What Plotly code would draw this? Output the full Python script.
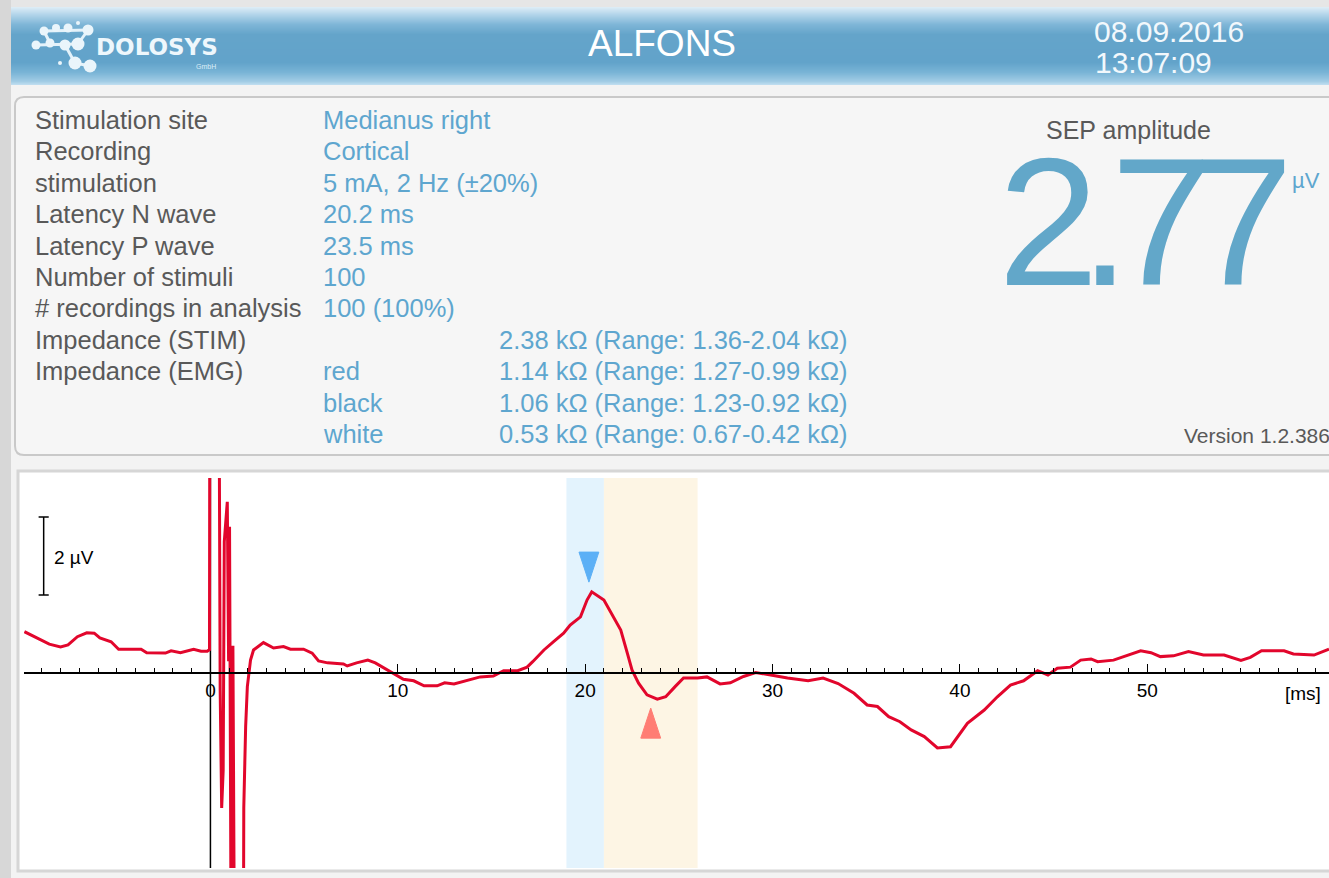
import plotly.graph_objects as go

W, H = 1329, 878

# averaged SEP trace, time in ms, amplitude in µV
TIME_MS = [
    -9.93, -9.4, -8.6, -8.0, -7.6, -7.1, -6.6, -6.2, -5.9, -5.3, -4.9, -3.7, -3.4, -2.4, -2.1, -1.6, -1.2, -0.9, -0.5, -0.17,
    -0.05, -0.03, 0.45, 0.52, 0.6, 0.68, 0.74, 0.9, 0.97, 1.02, 1.12, 1.2, 1.3, 1.75, 1.78, 1.88, 1.97,
    2.14, 2.3, 2.83, 3.37, 3.9, 4.27, 4.97, 5.43, 5.77, 6.25, 7.1, 7.3, 7.8, 8.4, 8.8, 9.25, 9.8, 10.3, 10.85, 11.4, 12.1, 12.5,
    13.0, 13.7, 14.4, 15.1, 15.65, 16.4, 16.9, 17.2, 17.8, 18.3, 18.85, 19.2, 19.75, 20.1, 20.35, 21.0, 21.5, 21.9, 22.25,
    22.5, 22.85, 23.3, 23.85, 24.3, 24.8, 25.25, 26.0, 26.5, 27.2, 27.75, 28.45, 29.1, 29.9,
    30.8, 31.9, 32.7, 33.5, 34.35, 35.05, 35.6, 36.2, 36.8, 37.4, 38.1, 38.8, 39.5, 40.4, 41.3, 42.0, 42.7, 43.4, 44.15,
    44.7, 45.2, 45.9, 46.45, 47.0, 47.35, 48.2, 48.95, 49.65, 50.2, 50.7, 51.4, 52.2, 53.0, 54.1, 55.0, 55.5, 56.1, 57.3,
    57.8, 58.9, 59.7,
]
SEP_UV = [
    1.06, 0.93, 0.74, 0.67, 0.72, 0.93, 1.03, 1.02, 0.9, 0.8, 0.61, 0.61, 0.52, 0.51, 0.57, 0.52, 0.57, 0.61, 0.56, 0.56,
    0.6, 9, 9, -0.44, -3.46, -2.5, 3.37, 4.39, 0.3, 3.75, -9, 0.7, -9, -9, -3.46, -1.37, -0.35,
    0.33, 0.59, 0.78, 0.64, 0.68, 0.61, 0.61, 0.51, 0.31, 0.26, 0.23, 0.18, 0.26, 0.33, 0.26, 0.13, -0.02, -0.16, -0.2, -0.33, -0.33, -0.25,
    -0.28, -0.18, -0.1, -0.08, 0.06, 0.06, 0.15, 0.29, 0.59, 0.8, 1.02, 1.23, 1.44, 1.87, 2.08, 1.87, 1.44, 1.1, 0.51,
    0.08, -0.26, -0.56, -0.67, -0.61, -0.35, -0.13, -0.13, -0.1, -0.28, -0.25, -0.09, 0.01, -0.05,
    -0.13, -0.2, -0.13, -0.27, -0.52, -0.82, -0.86, -1.12, -1.25, -1.46, -1.63, -1.92, -1.89, -1.29, -0.95, -0.61, -0.31, -0.2, 0.06,
    -0.05, 0.12, 0.15, 0.33, 0.36, 0.29, 0.33, 0.46, 0.57, 0.52, 0.42, 0.44, 0.55, 0.46, 0.46, 0.32, 0.4, 0.57, 0.57,
    0.49, 0.46, 0.61,
]

N_LATENCY_MS = 20.2
P_LATENCY_MS = 23.5
N_PEAK_UV = 2.08
P_PEAK_UV = -0.69
N_WINDOW_MS = [19, 21]
P_WINDOW_MS = [21, 26]
X_TICKS = [0, 10, 20, 30, 40, 50]
SCALE_BAR_UV = [2, 4]

INFO_LABELS = ["Stimulation site", "Recording", "stimulation", "Latency N wave", "Latency P wave",
               "Number of stimuli", "# recordings in analysis", "Impedance (STIM)", "Impedance (EMG)", "", ""]
INFO_VALUES = ["Medianus right", "Cortical", "5 mA, 2 Hz (±20%)", "20.2 ms", "23.5 ms", "100",
               "100 (100%)", "", "red", "black", "white"]
IMPEDANCE = ["", "", "", "", "", "", "",
             "2.38 kΩ (Range: 1.36-2.04 kΩ)", "1.14 kΩ (Range: 1.27-0.99 kΩ)",
             "1.06 kΩ (Range: 1.23-0.92 kΩ)", "0.53 kΩ (Range: 0.67-0.42 kΩ)"]

SEP_AMPLITUDE = "2.77"
DATE, TIME = "08.09.2016", "13:07:09"

FONT = "Liberation Sans, Arial, sans-serif"
GREY_TXT = "#595959"
BLUE_TXT = "#5ea6cf"
RED = "#e2062c"


def px(x):
    return x / W


def py(y):
    return 1 - y / H


def text(x, y, s, size, color, anchor="left", family=FONT, **kw):
    return dict(x=px(x), y=py(y), xref="paper", yref="paper", text=s, showarrow=False,
                xanchor=anchor, yanchor="middle", font=dict(family=family, size=size, color=color), **kw)


def hexmix(c1, c2, t):
    a = [int(c1[i:i + 2], 16) for i in (1, 3, 5)]
    b = [int(c2[i:i + 2], 16) for i in (1, 3, 5)]
    return "rgb(%d,%d,%d)" % tuple(round(a[k] + (b[k] - a[k]) * t) for k in range(3))


shapes = []
# page background pieces
shapes.append(dict(type="rect", xref="paper", yref="paper", x0=0, x1=px(11), y0=0, y1=1,
                   fillcolor="#d7d7d7", line_width=0, layer="below"))
shapes.append(dict(type="rect", xref="paper", yref="paper", x0=px(11), x1=1, y0=py(7), y1=1,
                   fillcolor="#e6e6e6", line_width=0, layer="below"))

# header gradient made of thin strips
stops = [(7, "#dcecf6"), (14, "#b3d5ea"), (24, "#7fb6d7"), (34, "#64a4ca"), (62, "#62a3ca"),
         (72, "#79b4d6"), (81, "#a2cce5"), (85, "#c6e2f2")]
for y in range(7, 85):
    for (ya, ca), (yb, cb) in zip(stops[:-1], stops[1:]):
        if ya <= y < yb:
            col = hexmix(ca, cb, (y - ya) / (yb - ya))
            break
    shapes.append(dict(type="rect", xref="paper", yref="paper", x0=px(11), x1=1, y0=py(y + 1), y1=py(y),
                       fillcolor=col, line_width=0, layer="below"))

# info panel (rounded)
r = 9
x0, x1, y0, y1 = 15, 1345, 97, 455
path = (f"M {px(x0 + r)},{py(y0)} L {px(x1)},{py(y0)} L {px(x1)},{py(y1)} L {px(x0 + r)},{py(y1)} "
        f"Q {px(x0)},{py(y1)} {px(x0)},{py(y1 - r)} L {px(x0)},{py(y0 + r)} Q {px(x0)},{py(y0)} {px(x0 + r)},{py(y0)} Z")
shapes.append(dict(type="path", xref="paper", yref="paper", path=path, fillcolor="#f6f6f6",
                   line=dict(color="#c9c9c9", width=2), layer="below"))
# plot panel
shapes.append(dict(type="rect", xref="paper", yref="paper", x0=px(18), x1=px(1345), y0=py(871), y1=py(471),
                   fillcolor="#ffffff", line=dict(color="#d6d6d6", width=3), layer="below"))

# analysis windows
shapes.append(dict(type="rect", xref="x", yref="paper", x0=N_WINDOW_MS[0], x1=N_WINDOW_MS[1],
                   y0=py(868), y1=py(478), fillcolor="#e3f3fd", line_width=0, layer="below"))
shapes.append(dict(type="rect", xref="x", yref="paper", x0=P_WINDOW_MS[0], x1=P_WINDOW_MS[1],
                   y0=py(868), y1=py(478), fillcolor="#fdf5e4", line_width=0, layer="below"))
# stimulus line
shapes.append(dict(type="line", xref="x", yref="y", x0=0, x1=0, y0=-5, y1=5,
                   line=dict(color="black", width=1.5), layer="below"))
# scale bar
bx = -8.9
shapes.append(dict(type="line", xref="x", yref="y", x0=bx, x1=bx, y0=SCALE_BAR_UV[0], y1=SCALE_BAR_UV[1],
                   line=dict(color="black", width=1.5)))
for v in SCALE_BAR_UV:
    shapes.append(dict(type="line", xref="x", yref="y", x0=bx - 0.27, x1=bx + 0.27, y0=v, y1=v,
                       line=dict(color="black", width=1.5)))

# logo dots
dots = [(44, 31, 4.5), (56, 28, 4), (68, 28, 4.5), (78, 23, 2), (88, 30, 5.5), (36, 45, 4.5), (50, 43, 4.5),
        (65, 45, 5.5), (78, 44, 6.5), (60, 63, 2), (75, 63, 6.5), (90, 66, 6.5)]
links = [(44, 31, 88, 30), (36, 45, 78, 44), (78, 44, 88, 30), (65, 45, 75, 63), (75, 63, 90, 66), (50, 43, 44, 31)]
for xa, ya, xb, yb in links:
    shapes.append(dict(type="line", xref="paper", yref="paper", x0=px(xa), y0=py(ya), x1=px(xb), y1=py(yb),
                       line=dict(color="#e4f2fa", width=3)))
for cx, cy, rr in dots:
    shapes.append(dict(type="circle", xref="paper", yref="paper", x0=px(cx - rr), x1=px(cx + rr),
                       y0=py(cy + rr), y1=py(cy - rr), fillcolor="#eaf5fb", line_width=0))

annotations = [
    text(94, 47, "<b>DOLOSYS</b>", 23, "#eef7fc", family="DejaVu Sans"),
    text(206, 66, "GmbH", 7, "#dbeef8", anchor="center"),
    text(662, 43, "ALFONS", 37, "#ffffff", anchor="center"),
    text(1092, 31, DATE, 30, "#f2f8fc"),
    text(1093, 62, TIME, 30, "#f2f8fc"),
    text(1044, 130, "SEP amplitude", 25, GREY_TXT),
    # the display uses a tightly spaced numeral
    text(996, 222, '<span style="letter-spacing:-19px">' + SEP_AMPLITUDE + "</span>", 181, "#62a7c9"),
    text(1290, 180, "µV", 22, BLUE_TXT),
    text(1182, 435, "Version 1.2.386", 21, GREY_TXT),
    text(52, 557, "2 µV", 19, "black"),
    text(1303, 693, "[ms]", 19, "black", anchor="center"),
]
for i, lab in enumerate(INFO_LABELS):
    yy = 120 + i * 31.4
    if lab:
        annotations.append(text(33, yy, lab, 25.5, GREY_TXT))
    if INFO_VALUES[i]:
        annotations.append(text(321, yy, INFO_VALUES[i], 25.5, BLUE_TXT))
    if IMPEDANCE[i]:
        annotations.append(text(497, yy, IMPEDANCE[i], 25.5, BLUE_TXT))

fig = go.Figure()
fig.add_trace(go.Scatter(x=TIME_MS, y=SEP_UV, mode="lines", line=dict(color=RED, width=3),
                         hoverinfo="skip", showlegend=False))

# latency markers (thin triangles)
hw, ht = 0.53, 0.77
n_tip = N_PEAK_UV + 0.25
p_tip = P_PEAK_UV - 0.21
fig.add_trace(go.Scatter(x=[N_LATENCY_MS - hw, N_LATENCY_MS + hw, N_LATENCY_MS, N_LATENCY_MS - hw],
                         y=[n_tip + ht, n_tip + ht, n_tip, n_tip + ht], fill="toself", mode="lines",
                         fillcolor="#5cb0f6", line=dict(color="#5cb0f6", width=1), showlegend=False))
fig.add_trace(go.Scatter(x=[P_LATENCY_MS - hw, P_LATENCY_MS + hw, P_LATENCY_MS, P_LATENCY_MS - hw],
                         y=[p_tip - ht, p_tip - ht, p_tip, p_tip - ht], fill="toself", mode="lines",
                         fillcolor="#ff7d74", line=dict(color="#ff7d74", width=1), showlegend=False))

fig.update_layout(
    width=W, height=H, margin=dict(l=0, r=0, t=0, b=0),
    paper_bgcolor="#f3f3f3", plot_bgcolor="rgba(0,0,0,0)",
    font=dict(family=FONT),
    shapes=shapes, annotations=annotations,
    xaxis=dict(domain=[px(24), 1], range=[-9.95, 59.7], anchor="free", position=py(673),
               showline=True, linecolor="black", linewidth=1.5, showgrid=False, zeroline=False,
               ticks="inside", ticklen=8, tickwidth=1, tickcolor="black",
               tickvals=X_TICKS, tickfont=dict(size=19, color="black"),
               minor=dict(dtick=1, tick0=0, ticks="inside", ticklen=4, tickcolor="black", tickwidth=1)),
    yaxis=dict(domain=[py(868), py(478)], range=[-5, 5], visible=False),
)

# drop the default page margin so the figure sits at the window origin
fig.write_html("out.html", config={"displayModeBar": False},
               post_script="document.body.style.margin='0';document.body.style.overflow='hidden';")
